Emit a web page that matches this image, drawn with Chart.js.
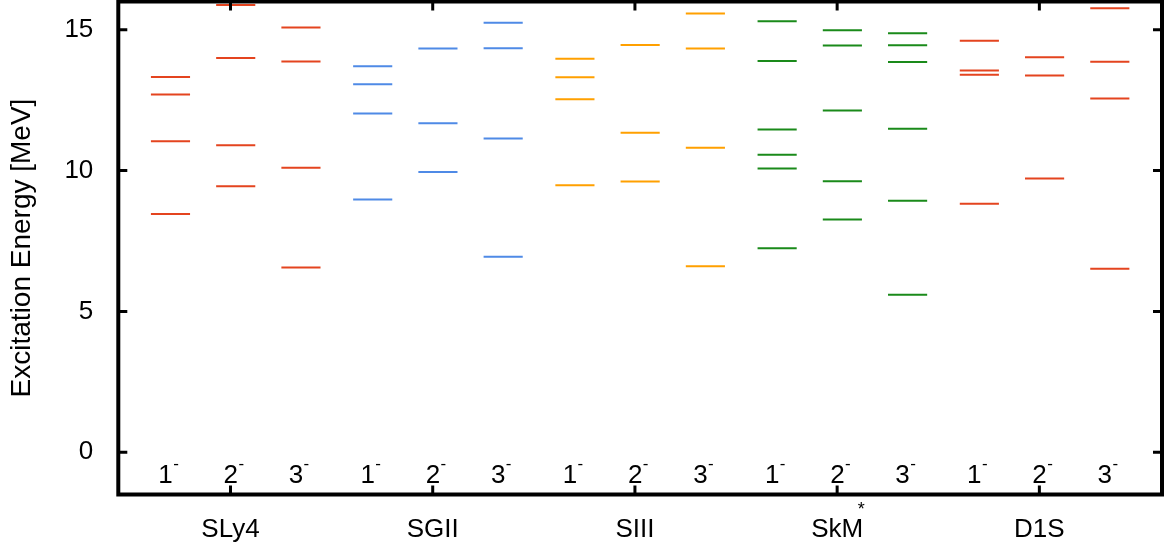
<!DOCTYPE html>
<html>
<head>
<meta charset="utf-8">
<script src="https://cdn.jsdelivr.net/npm/chart.js@4.4.1/dist/chart.umd.min.js"></script>
<style>
  html, body { margin: 0; padding: 0; background: #fff; }
</style>
</head>
<body>
<canvas id="levels" width="1174" height="543"></canvas>
<script>
// model names shown under the axis, spins shown inside the frame
const MODELS = ['SLy4', 'SGII', 'SIII', 'SkM', 'D1S'];
const SPINS = ['1', '2', '3'];
const COLORS = ['#e4441f', '#4f8ae6', '#ffa000', '#1a8a1a', '#e4441f'];

// excitation energies [MeV] per spin (1-, 2-, 3-)
const SLY4 = [[13.32, 12.70, 11.04, 8.46], [15.88, 13.99, 10.90, 9.44], [15.08, 13.87, 10.10, 6.56]];
const SGII = [[13.70, 13.06, 12.02, 8.97], [14.33, 11.68, 9.95], [15.25, 14.34, 11.14, 6.94]];
const SIII = [[13.97, 13.31, 12.53, 9.48], [14.46, 11.34, 9.61], [15.57, 14.33, 10.81, 6.60]];
const SKM = [[15.30, 13.89, 11.46, 10.56, 10.07, 7.24], [14.98, 14.44, 12.13, 9.62, 8.26], [14.87, 14.45, 13.85, 11.48, 8.93, 5.59]];
const D1S = [[14.61, 13.55, 13.40, 8.82], [14.02, 13.37, 9.72], [15.76, 13.86, 12.56, 6.51]];
const LEVELS = [SLY4, SGII, SIII, SKM, D1S];

const Y_TICKS = [0, 5, 10, 15];

// x layout (axis units, one unit per spin column)
const GROUP0 = 1.8, GROUP_STEP = 3.1, HALF = 0.3, TICK_SHIFT = -0.08;
const FONT = "'Liberation Sans', Arial, sans-serif";

function colX(g, j) { return GROUP0 + GROUP_STEP * g + (j - 1); }

const datasets = LEVELS.map((model, g) => {
  const pts = [];
  model.forEach((energies, j) => {
    const c = colX(g, j);
    energies.forEach(e => {
      pts.push({x: c - HALF, y: e}, {x: c + HALF, y: e}, {x: c, y: null});
    });
  });
  return {
    label: MODELS[g],
    data: pts,
    borderColor: COLORS[g],
    borderWidth: 2,
    pointRadius: 0,
    spanGaps: false,
    fill: false
  };
});

const frame = {
  id: 'frame',
  afterDraw(chart) {
    const {ctx, chartArea: a, scales} = chart;
    const xs = scales.x, ys = scales.y;
    ctx.save();
    ctx.strokeStyle = '#000';
    ctx.lineWidth = 3;
    // inward tick marks on all four sides
    ys.ticks.forEach(t => {
      const py = ys.getPixelForValue(t.value);
      ctx.beginPath();
      ctx.moveTo(a.left, py); ctx.lineTo(a.left + 9, py);
      ctx.moveTo(a.right, py); ctx.lineTo(a.right - 9, py);
      ctx.stroke();
    });
    xs.ticks.forEach(t => {
      const px = xs.getPixelForValue(t.value);
      ctx.beginPath();
      ctx.moveTo(px, a.bottom); ctx.lineTo(px, a.bottom - 9);
      ctx.moveTo(px, a.top); ctx.lineTo(px, a.top + 9);
      ctx.stroke();
    });
    ctx.lineWidth = 4;
    ctx.strokeRect(a.left, a.top, a.right - a.left, a.bottom - a.top);

    // spin labels 1^- 2^- 3^-
    ctx.fillStyle = '#000';
    ctx.textBaseline = 'middle';
    ctx.textAlign = 'center';
    const ly = ys.getPixelForValue(-0.85);
    MODELS.forEach((m, g) => {
      SPINS.forEach((s, j) => {
        const px = xs.getPixelForValue(colX(g, j));
        ctx.font = '26px ' + FONT;
        ctx.fillText(s, px - 5, ly);
        ctx.font = '17px ' + FONT;
        ctx.fillText('-', px + 5.5, ly - 12);
      });
    });

    // superscript star of SkM*
    const sk = xs.getPixelForValue(GROUP0 + GROUP_STEP * 3 + TICK_SHIFT);
    ctx.font = '18px ' + FONT;
    ctx.fillText('*', sk + 24, a.bottom + 16);
    ctx.restore();
  }
};

new Chart(document.getElementById('levels'), {
  type: 'line',
  data: {datasets},
  plugins: [frame],
  options: {
    responsive: false,
    animation: false,
    layout: {padding: {top: 1.5, right: 12, left: 0, bottom: 0}},
    plugins: {legend: {display: false}, tooltip: {enabled: false}},
    scales: {
      x: {
        type: 'linear',
        min: 0,
        max: 16,
        grid: {display: false},
        border: {display: false},
        afterFit: s => { s.height = 48.5; s.paddingLeft = 0; s.paddingRight = 0; },
        afterBuildTicks: s => {
          s.ticks = MODELS.map((m, g) => ({value: GROUP0 + GROUP_STEP * g + TICK_SHIFT}));
        },
        ticks: {
          color: '#000',
          padding: 12,
          maxRotation: 0,
          font: {family: FONT, size: 26},
          callback: (v, i) => MODELS[i]
        }
      },
      y: {
        min: -1.5,
        max: 16,
        grid: {display: false},
        border: {display: false},
        afterFit: s => { s.width = 118.3; s.paddingTop = 0; s.paddingBottom = 0; },
        afterBuildTicks: s => {
          s.ticks = Y_TICKS.map(v => ({value: v}));
        },
        ticks: {
          color: '#000',
          padding: 17,
          font: {family: FONT, size: 26}
        },
        title: {
          display: true,
          text: 'Excitation Energy [MeV]',
          color: '#000',
          font: {family: FONT, size: 28},
          padding: {top: 5, bottom: 0}
        }
      }
    }
  }
});
</script>
</body>
</html>
